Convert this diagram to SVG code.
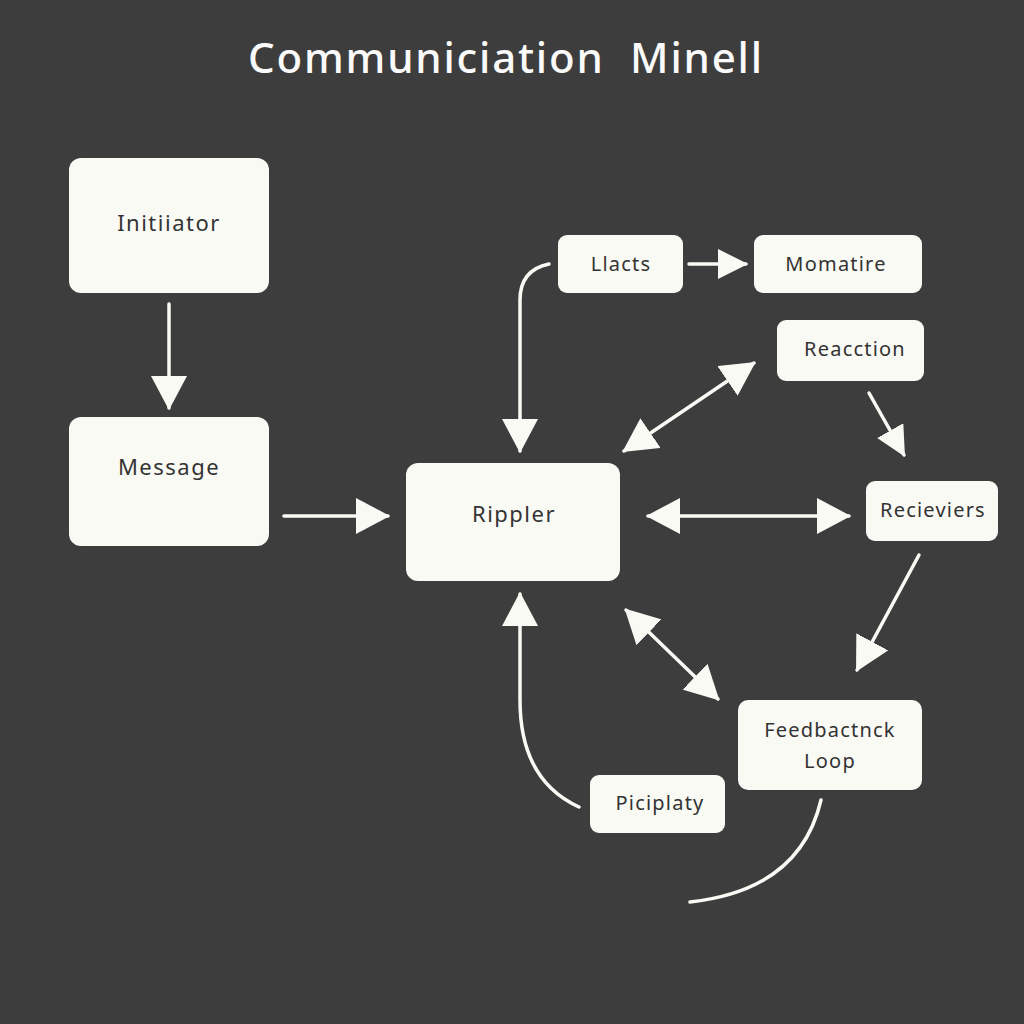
<svg xmlns="http://www.w3.org/2000/svg" width="1024" height="1024" viewBox="0 0 1024 1024">
<defs>
<style>
.node rect{fill:#fafaf5;stroke:none}
.node text{font-family:"Noto Sans","Liberation Sans",sans-serif;fill:#333;text-anchor:middle;dominant-baseline:central}
.lg text{font-size:22px;letter-spacing:1.5px}
.sm text{font-size:20px;letter-spacing:1.2px}
.conn{fill:none;stroke:#fafaf5;stroke-width:3.5;stroke-linecap:round}
</style>
<marker id="ah" markerUnits="userSpaceOnUse" viewBox="0 0 34 36" markerWidth="34" markerHeight="36" refX="32" refY="18" orient="auto-start-reverse">
<path d="M0,0 L34,18 L0,36 Z" fill="#fafaf5"/>
</marker>
<marker id="as" markerUnits="userSpaceOnUse" viewBox="0 0 30 30" markerWidth="30" markerHeight="30" refX="28" refY="15" orient="auto-start-reverse">
<path d="M0,0 L30,15 L0,30 Z" fill="#fafaf5"/>
</marker>
</defs>
<rect width="1024" height="1024" fill="#3d3d3d"/>
<text x="506" y="73" xml:space="preserve" font-family="Noto Sans, Liberation Sans, sans-serif" font-size="42" font-weight="500" letter-spacing="1.8" fill="#fafafa" text-anchor="middle">Communiciation  Minell</text>

<g id="connectors">
<path class="conn" d="M169,304 L169,408" marker-end="url(#ah)"/>
<path class="conn" d="M284,516 L388,516" marker-end="url(#ah)"/>
<path class="conn" d="M549,264 Q520,270 520,300 L520,451" marker-end="url(#ah)"/>
<path class="conn" d="M689,264 L746,264" marker-end="url(#as)"/>
<path class="conn" d="M624,451 L754,363" marker-start="url(#ah)" marker-end="url(#ah)"/>
<path class="conn" d="M869,393 L904,455" marker-end="url(#as)"/>
<path class="conn" d="M648,516 L849,516" marker-start="url(#ah)" marker-end="url(#ah)"/>
<path class="conn" d="M919,555 L857,670" marker-end="url(#ah)"/>
<path class="conn" d="M626,610 L718,699" marker-start="url(#ah)" marker-end="url(#ah)"/>
<path class="conn" d="M579,807 Q520,780 520,700 L520,594" marker-end="url(#ah)"/>
<path class="conn" d="M821,800 Q800,890 690,902"/>
</g>

<g id="initiator" class="node lg"><rect x="69" y="158" width="200" height="135" rx="12"/><text x="169" y="222">Initiiator</text></g>
<g id="message" class="node lg"><rect x="69" y="417" width="200" height="129" rx="12"/><text x="169" y="466">Message</text></g>
<g id="rippler" class="node lg"><rect x="406" y="463" width="214" height="118" rx="12"/><text x="514" y="513">Rippler</text></g>
<g id="llacts" class="node sm"><rect x="558" y="235" width="125" height="58" rx="9"/><text x="621" y="263">Llacts</text></g>
<g id="momatire" class="node sm"><rect x="754" y="235" width="168" height="58" rx="9"/><text x="836" y="263">Momatire</text></g>
<g id="reaction" class="node sm"><rect x="777" y="320" width="147" height="61" rx="9"/><text x="855" y="348">Reacction</text></g>
<g id="recievers" class="node sm"><rect x="866" y="481" width="132" height="60" rx="9"/><text x="933" y="509">Recieviers</text></g>
<g id="feedback" class="node sm"><rect x="738" y="700" width="184" height="90" rx="10"/><text x="830" y="729">Feedbactnck</text><text x="830" y="760">Loop</text></g>
<g id="piciplaty" class="node sm"><rect x="590" y="775" width="135" height="58" rx="9"/><text x="660" y="802">Piciplaty</text></g>
</svg>
